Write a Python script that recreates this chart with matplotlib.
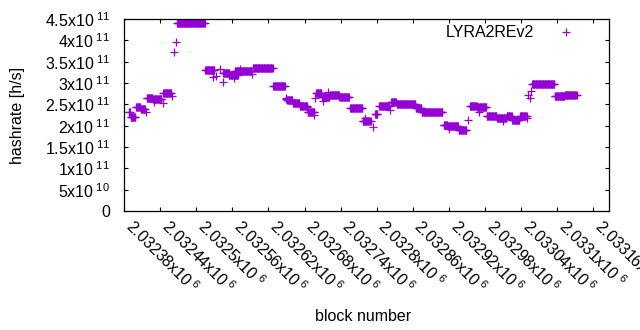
"""Hashrate per block for LYRA2REv2, redrawn in gnuplot-like style."""

import matplotlib

matplotlib.use("Agg")

import matplotlib.pyplot as plt  # noqa: E402
import numpy as np  # noqa: E402
from matplotlib.ticker import FixedLocator, FuncFormatter  # noqa: E402

plt.rcParams["font.family"] = ["Liberation Sans", "DejaVu Sans"]
plt.rcParams["mathtext.fontset"] = "custom"
plt.rcParams["mathtext.rm"] = "Liberation Sans"
plt.rcParams["mathtext.it"] = "Liberation Sans:italic"
plt.rcParams["mathtext.bf"] = "Liberation Sans:bold"

_FS = 11.5
_COLOR = "#9400d3"

# runs of blocks with a constant estimate: [start, end) and rate in GH/s
run_start = [2032388, 2032391, 2032400, 2032408, 2032418, 2032429, 2032445,
             2032468, 2032515, 2032545, 2032554, 2032564, 2032594, 2032628,
             2032651, 2032661, 2032672, 2032685, 2032699, 2032709, 2032722,
             2032738, 2032756, 2032777, 2032797, 2032804, 2032824, 2032833,
             2032865, 2032875, 2032911, 2032918, 2032936, 2032955, 2032967,
             2032983, 2033000, 2033016, 2033025, 2033038, 2033058, 2033096,
             2033113]
run_end = [2032391, 2032400, 2032408, 2032416, 2032428, 2032443, 2032459,
           2032515, 2032531, 2032556, 2032570, 2032592, 2032628, 2032648,
           2032661, 2032672, 2032685, 2032697, 2032709, 2032722, 2032738,
           2032755, 2032777, 2032789, 2032802, 2032822, 2032833, 2032865,
           2032875, 2032910, 2032918, 2032936, 2032950, 2032967, 2032983,
           2033000, 2033016, 2033025, 2033038, 2033050, 2033096, 2033113,
           2033133]
run_rate_gh = [232, 220, 244, 240, 266, 262, 277,
               440, 330, 323, 318, 328, 335, 293,
               260, 252, 245, 233, 276, 267, 271,
               267, 241, 210, 228, 246, 256, 251,
               241, 232, 202, 199, 189, 246, 244,
               223, 218, 223, 213, 222, 298, 269,
               272]

# isolated blocks off their neighbours
single_block = [2032417, 2032430, 2032445, 2032460, 2032463, 2032466,
                2032528, 2032533, 2032540, 2032545, 2032563, 2032573,
                2032593, 2032649, 2032650, 2032684, 2032696, 2032698,
                2032710, 2032719, 2032780, 2032790, 2032794, 2032822,
                2032920, 2032952, 2032970, 2033010, 2033050, 2033052,
                2033054, 2033056]
single_rate_gh = [232, 256, 253, 270, 372, 397,
                  315, 316, 333, 303, 312, 333,
                  321, 265, 262, 244, 225, 265,
                  258, 279, 217, 211, 197, 237,
                  192, 213, 232, 211, 218, 272,
                  264, 281]

x_ticks = np.arange(2032380, 2033161, 60)
y_ticks = np.arange(0, 4.51e11, 5e10)
x_range = (2032380, 2033186)
y_range = (0, 4.5e11)


def gnu_fmt(value, _pos=None):
    """Format like gnuplot's '%g x10^{%L}'."""
    if value == 0:
        return "0"
    exp = int(np.floor(np.log10(abs(value)) + 1e-9))
    mant = value / 10**exp
    return f"{mant:.6g}x10$^{{\\ {exp}}}$"


blocks = []
rates = []
for start, end, rate in zip(run_start, run_end, run_rate_gh):
    span = np.arange(start, end)
    blocks.append(span)
    rates.append(np.full(span.size, rate * 1e9))
blocks.append(np.asarray(single_block))
rates.append(np.asarray(single_rate_gh) * 1e9)
blocks = np.concatenate(blocks)
rates = np.concatenate(rates)

fig = plt.figure(figsize=(6.4, 3.3), dpi=100)
ax = fig.add_axes([124 / 640, 119 / 330, 485 / 640, 192 / 330])
ax.plot(blocks, rates, ls="none", marker="+", ms=5.2, mew=0.9,
        color=_COLOR, label="LYRA2REv2")

ax.set_xlim(*x_range)
ax.set_ylim(*y_range)
ax.yaxis.set_major_locator(FixedLocator(y_ticks))
ax.yaxis.set_major_formatter(FuncFormatter(gnu_fmt))

ax.tick_params(direction="in", length=3, width=0.8, top=True, right=True,
               labelsize=_FS, colors="black")
ax.tick_params(axis="y", pad=10)
ax.tick_params(axis="x", pad=12)
ax.set_xticks(x_ticks, labels=[gnu_fmt(t) for t in x_ticks], rotation=-45,
              ha="left", va="baseline", rotation_mode="anchor", fontsize=_FS)
ax.set_xlim(*x_range)
for spine in ax.spines.values():
    spine.set_linewidth(0.9)

ax.set_ylabel("hashrate [h/s]", fontsize=_FS, va="center")
ax.yaxis.set_label_coords(-0.2206, 0.5)
ax.set_xlabel("block number", fontsize=_FS, va="center")
ax.xaxis.set_label_coords(0.493, -0.55)

ax.legend(loc="upper right", bbox_to_anchor=(0.957, 1.0), borderaxespad=0,
          frameon=False, markerfirst=False, handlelength=2.0,
          handletextpad=1.0, fontsize=_FS)

fig.savefig("out.png", dpi=100)
plt.close(fig)
